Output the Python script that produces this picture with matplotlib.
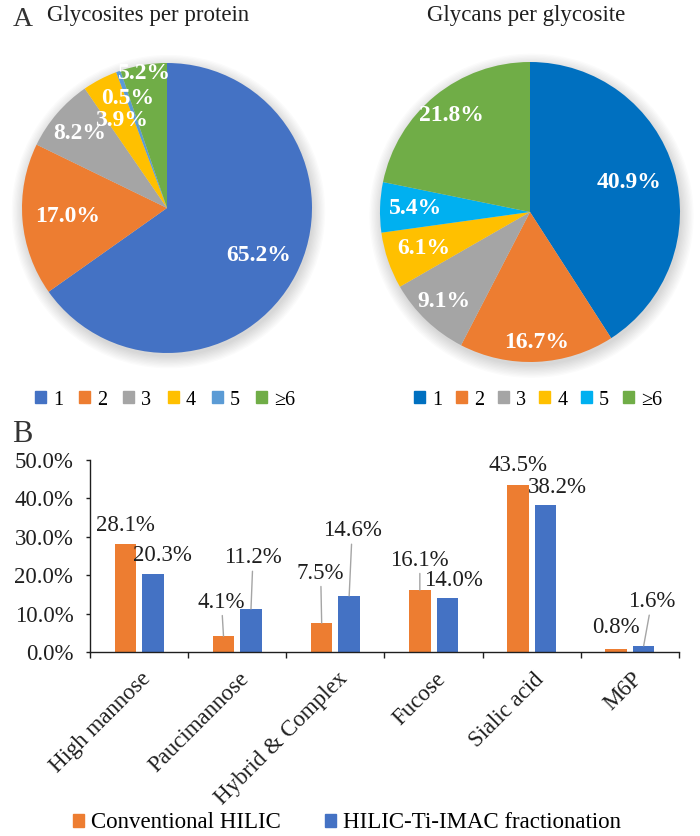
import matplotlib
matplotlib.use('Agg')
import matplotlib.pyplot as plt
from matplotlib.patches import Patch, Circle
from matplotlib.ticker import FuncFormatter, MultipleLocator
import matplotlib.transforms as mtransforms
import numpy as np

plt.rcParams['font.family'] = ['Liberation Serif', 'DejaVu Serif']

W, H = 700, 836

# ---------------- data ----------------
pie_categories = ['1', '2', '3', '4', '5', '≥6']
sites_per_protein = [65.2, 17.0, 8.2, 3.9, 0.5, 5.2]
glycans_per_site = [40.9, 16.7, 9.1, 6.1, 5.4, 21.8]

bar_categories = ['High mannose', 'Paucimannose', 'Hybrid & Complex',
                  'Fucose', 'Sialic acid', 'M6P']
conventional_hilic = [28.1, 4.1, 7.5, 16.1, 43.5, 0.8]
hilic_ti_imac = [20.3, 11.2, 14.6, 14.0, 38.2, 1.6]
bar_series = ['Conventional HILIC', 'HILIC-Ti-IMAC fractionation']

# ---------------- styles ----------------
left_colors = ['#4472C4', '#ED7D31', '#A5A5A5', '#FFC000', '#5B9BD5', '#70AD47']
right_colors = ['#0070C0', '#ED7D31', '#A5A5A5', '#FFC000', '#00B0F0', '#70AD47']
orange, blue = '#ED7D31', '#4472C4'
txt = '#1F1F1F'

fig = plt.figure(figsize=(W / 100, H / 100), dpi=100)


def draw_pie(cx, cy, r, values, colors, dists):
    lim = 1.15
    size = 2 * r * lim
    ax = fig.add_axes([(cx - r * lim) / W, 1 - (cy + r * lim) / H, size / W, size / H])
    wedges, _ = ax.pie(values, colors=colors, startangle=90, counterclock=False,
                       radius=1, wedgeprops=dict(linewidth=0))
    for i in range(10):
        ax.add_patch(Circle((0.01, -0.025), 1.0 + 0.009 * i, color='black',
                            alpha=0.016, lw=0, zorder=0))
    for w, v, d in zip(wedges, values, dists):
        a = np.deg2rad((w.theta1 + w.theta2) / 2)
        ax.text(d * np.cos(a), d * np.sin(a), f'{v:.1f}%', ha='center', va='center',
                color='white', fontsize=17, fontweight='bold')
    ax.set_xlim(-lim, lim)
    ax.set_ylim(-lim, lim)
    ax.set_aspect('equal')
    ax.axis('off')
    return ax


draw_pie(167, 208, 145, sites_per_protein, left_colors,
         [0.71, 0.69, 0.79, 0.68, 0.80, 0.94])
draw_pie(530, 212, 150, glycans_per_site, right_colors,
         [0.69, 0.87, 0.83, 0.75, 0.76, 0.83])

fig.text(13 / W, 1 - 19 / H, 'A', fontsize=20, color='#333333', va='center', ha='left')
fig.text(47 / W, 1 - 16 / H, 'Glycosites per protein', fontsize=16.5, color=txt,
         va='center', ha='left')
fig.text(526 / W, 1 - 16 / H, 'Glycans per glycosite', fontsize=16.5, color=txt,
         va='center', ha='center')
fig.text(12 / W, 1 - 435 / H, 'B', fontsize=22, color='#333333', va='center', ha='left')

for cxl, cols, csp in [(165, left_colors, 0.8), (538, right_colors, 0.67)]:
    fig.legend(handles=[Patch(color=c) for c in cols], labels=pie_categories,
               loc='center', bbox_to_anchor=(cxl / W, 1 - 400 / H), ncol=6,
               frameon=False, fontsize=14.5, handlelength=0.55, handleheight=0.55,
               handletextpad=0.35, columnspacing=csp, borderpad=0, borderaxespad=0)

# ---------------- bar chart ----------------
axb = fig.add_axes([90 / W, 1 - 652 / H, 589 / W, 192 / H])
x = np.arange(len(bar_categories))
bw, off = 0.22, 0.14
axb.bar(x - off, conventional_hilic, bw, color=orange)
axb.bar(x + off, hilic_ti_imac, bw, color=blue)
axb.set_xlim(-0.5, len(x) - 0.5)
axb.set_ylim(0, 50)
axb.yaxis.set_major_locator(MultipleLocator(10))
axb.yaxis.set_major_formatter(FuncFormatter(lambda v, p: f'{v:.1f}%'))
for s in ['top', 'right']:
    axb.spines[s].set_visible(False)
for s in ['left', 'bottom']:
    axb.spines[s].set_color(txt)
    axb.spines[s].set_linewidth(1.0)
axb.tick_params(axis='y', length=3, width=1, color=txt, labelsize=16.5, pad=9,
                labelcolor=txt)
axb.set_xticks(x)
axb.set_xticklabels(bar_categories, rotation=45, ha='right', va='top',
                    rotation_mode='anchor', fontsize=16.5, color=txt)
axb.tick_params(axis='x', which='major', length=0, pad=12)
axb.set_xticks(np.arange(-0.5, len(x)), minor=True)
axb.tick_params(axis='x', which='minor', length=4, width=1, color=txt)
shift = mtransforms.ScaledTranslation(1 / 72, 0, fig.dpi_scale_trans)
for lab in axb.get_xticklabels():
    lab.set_transform(lab.get_transform() + shift)

# label offsets in pixels (dx, dy, leader line)
conv_offsets = [(0, 19, False), (-2, 34, True), (-1, 50, True),
                (0, 30, True), (0, 19, False), (0, 21, False)]
hil_offsets = [(10, 19, False), (2, 51, True), (3, 65, True),
               (6, 18, False), (12, 18, False), (8, 44, True)]
for vals, sign, offs in [(conventional_hilic, -1, conv_offsets),
                         (hilic_ti_imac, 1, hil_offsets)]:
    for xi, v, (dx, dy, lead) in zip(x, vals, offs):
        kw = {}
        if lead:
            kw['arrowprops'] = dict(arrowstyle='-', color='#A5A5A5', lw=1,
                                    shrinkA=0, shrinkB=0)
        axb.annotate(f'{v:.1f}%', xy=(xi + sign * off, v), xytext=(dx, dy),
                     textcoords='offset pixels', ha='center', va='center',
                     fontsize=16.5, color=txt, **kw)

fig.legend(handles=[Patch(color=orange), Patch(color=blue)], labels=bar_series,
           loc='center', bbox_to_anchor=(347 / W, 1 - 823 / H), ncol=2,
           frameon=False, fontsize=16.5, handlelength=0.5, handleheight=0.5,
           handletextpad=0.3, columnspacing=1.9, borderpad=0, borderaxespad=0)

fig.savefig('out.png', dpi=100)
